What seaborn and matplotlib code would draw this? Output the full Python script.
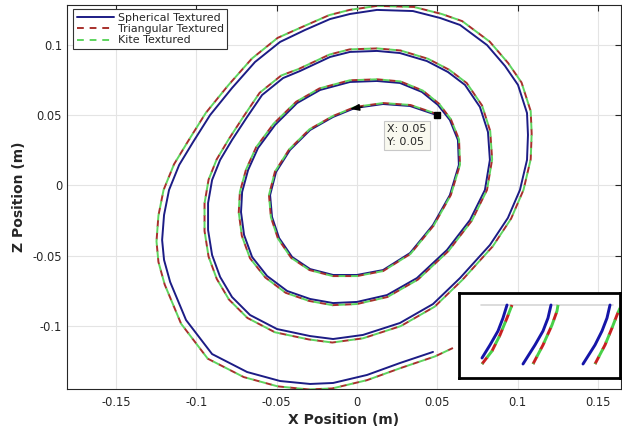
import numpy as np
import pandas as pd
import matplotlib
matplotlib.use("Agg")
import matplotlib.pyplot as plt
import seaborn as sns
from matplotlib.lines import Line2D

# ---------------- data ----------------
series_names = ["Spherical Textured", "Triangular Textured", "Kite Textured"]
series_colors = ["#1c1c85", "#a8302c", "#5ed45e"]

sph_x = [0.0500, 0.0330, 0.0162, -0.0012, -0.0149, -0.0292, -0.0417, -0.0504, -0.0541, -0.0529,
         -0.0485, -0.0404, -0.0292, -0.0149, 0.0000, 0.0162, 0.0330, 0.0473, 0.0578, 0.0634,
         0.0628, 0.0578, 0.0504, 0.0404, 0.0267, 0.0124, -0.0044, -0.0230, -0.0373,
         -0.0510, -0.0616, -0.0678, -0.0715, -0.0722, -0.0703, -0.0653, -0.0560, -0.0435, -0.0292,
         -0.0149, 0.0000, 0.0187, 0.0373, 0.0560, 0.0703, 0.0796, 0.0827, 0.0815, 0.0765,
         0.0672, 0.0566, 0.0435, 0.0267, 0.0124, -0.0044, -0.0168, -0.0355,
         -0.0460, -0.0591, -0.0684, -0.0778, -0.0852, -0.0902, -0.0927, -0.0927, -0.0902, -0.0852,
         -0.0778, -0.0666, -0.0498, -0.0292, -0.0149, 0.0037, 0.0267, 0.0473, 0.0641, 0.0827,
         0.0939, 0.1014, 0.1058, 0.1064, 0.1058, 0.1002, 0.0921, 0.0809, 0.0641, 0.0516,
         0.0348, 0.0124, -0.0044, -0.0168, -0.0324,
         -0.0479, -0.0635, -0.0778, -0.0914, -0.1020, -0.1107, -0.1170, -0.1201, -0.1213, -0.1201,
         -0.1163, -0.1064, -0.0902, -0.0684, -0.0479, -0.0292, -0.0149, 0.0062, 0.0267, 0.0473]
sph_z = [0.0500, 0.0566, 0.0580, 0.0552, 0.0488, 0.0395, 0.0253, 0.0096, -0.0068, -0.0224,
         -0.0374, -0.0509, -0.0595, -0.0637, -0.0637, -0.0602, -0.0481, -0.0281, -0.0068, 0.0146,
         0.0324, 0.0466, 0.0573, 0.0666, 0.0730, 0.0744, 0.0737, 0.0680, 0.0587,
         0.0431, 0.0267, 0.0110, -0.0046, -0.0189, -0.0352, -0.0509, -0.0644, -0.0751, -0.0808,
         -0.0837, -0.0829, -0.0780, -0.0659, -0.0459, -0.0246, -0.0032, 0.0182, 0.0381, 0.0559,
         0.0716, 0.0808, 0.0886, 0.0943, 0.0958, 0.0951, 0.0915, 0.0815,
         0.0765, 0.0644, 0.0488, 0.0324, 0.0182, 0.0039, -0.0125, -0.0317, -0.0495, -0.0651,
         -0.0794, -0.0922, -0.1022, -0.1072, -0.1093, -0.1064, -0.0979, -0.0844, -0.0659, -0.0424,
         -0.0231, -0.0032, 0.0182, 0.0360, 0.0516, 0.0716, 0.0851, 0.1000, 0.1143, 0.1193,
         0.1242, 0.1250, 0.1221, 0.1185, 0.1107,
         0.1022, 0.0879, 0.0694, 0.0502, 0.0310, 0.0146, -0.0032, -0.0210, -0.0388, -0.0530,
         -0.0687, -0.0958, -0.1200, -0.1328, -0.1392, -0.1413, -0.1406, -0.1349, -0.1264, -0.1185]

tri_x = [0.0505, 0.0333, 0.0163, -0.0013, -0.0151, -0.0296, -0.0423, -0.0511, -0.0548, -0.0536,
         -0.0492, -0.0410, -0.0296, -0.0151, -0.0001, 0.0163, 0.0333, 0.0478, 0.0584, 0.0641,
         0.0635, 0.0584, 0.0511, 0.0409, 0.0270, 0.0125, -0.0045, -0.0234, -0.0379,
         -0.0520, -0.0628, -0.0691, -0.0729, -0.0736, -0.0717, -0.0666, -0.0571, -0.0444, -0.0298,
         -0.0153, -0.0001, 0.0189, 0.0379, 0.0569, 0.0715, 0.0809, 0.0841, 0.0829, 0.0778,
         0.0683, 0.0575, 0.0442, 0.0271, 0.0125, -0.0046, -0.0172, -0.0362,
         -0.0472, -0.0606, -0.0701, -0.0797, -0.0873, -0.0924, -0.0949, -0.0949, -0.0924, -0.0873,
         -0.0797, -0.0682, -0.0511, -0.0300, -0.0154, 0.0037, 0.0272, 0.0483, 0.0655, 0.0845,
         0.0959, 0.1036, 0.1081, 0.1087, 0.1081, 0.1024, 0.0941, 0.0826, 0.0655, 0.0527,
         0.0355, 0.0126, -0.0046, -0.0173, -0.0333,
         -0.0494, -0.0654, -0.0801, -0.0941, -0.1049, -0.1139, -0.1204, -0.1236, -0.1248, -0.1236,
         -0.1197, -0.1095, -0.0929, -0.0705, -0.0494, -0.0302, -0.0155, 0.0062, 0.0273, 0.0485,
         0.0597]
tri_z = [0.0506, 0.0573, 0.0587, 0.0559, 0.0494, 0.0400, 0.0256, 0.0098, -0.0068, -0.0226,
         -0.0378, -0.0515, -0.0602, -0.0645, -0.0645, -0.0609, -0.0487, -0.0284, -0.0068, 0.0148,
         0.0328, 0.0472, 0.0582, 0.0676, 0.0741, 0.0756, 0.0749, 0.0691, 0.0596,
         0.0439, 0.0272, 0.0113, -0.0046, -0.0192, -0.0358, -0.0518, -0.0655, -0.0764, -0.0822,
         -0.0852, -0.0844, -0.0794, -0.0670, -0.0467, -0.0250, -0.0032, 0.0186, 0.0388, 0.0570,
         0.0729, 0.0823, 0.0902, 0.0961, 0.0976, 0.0969, 0.0932, 0.0830,
         0.0783, 0.0660, 0.0500, 0.0332, 0.0187, 0.0041, -0.0127, -0.0324, -0.0506, -0.0665,
         -0.0812, -0.0943, -0.1045, -0.1096, -0.1118, -0.1088, -0.1001, -0.0863, -0.0673, -0.0433,
         -0.0236, -0.0032, 0.0187, 0.0369, 0.0529, 0.0733, 0.0871, 0.1024, 0.1170, 0.1221,
         0.1271, 0.1279, 0.1250, 0.1213, 0.1133,
         0.1051, 0.0904, 0.0714, 0.0517, 0.0320, 0.0151, -0.0032, -0.0215, -0.0398, -0.0544,
         -0.0705, -0.0984, -0.1233, -0.1364, -0.1430, -0.1452, -0.1445, -0.1386, -0.1299, -0.1217,
         -0.1157]

# Kite Textured reads identical to Triangular Textured in the picture
kite_x = list(tri_x)
kite_z = list(tri_z)

x_ticks = [-0.15, -0.1, -0.05, 0, 0.05, 0.1, 0.15]
x_tick_labels = ["-0.15", "-0.1", "-0.05", "0", "0.05", "0.1", "0.15"]
z_ticks = [-0.1, -0.05, 0, 0.05, 0.1]
z_tick_labels = ["-0.1", "-0.05", "0", "0.05", "0.1"]

datatip_x = [0.05]
datatip_z = [0.05]
arrow_x = [0.0031, -0.0044]
arrow_z = [0.0559, 0.0545]

# inset (zoomed detail), local units
nan = float("nan")
inset_sph_u = [23, 31, 39, 44, 48, nan, 64, 76, 84, 89, 92, nan, 124, 136, 143, 148, 151]
inset_sph_v = [20, 33, 47, 60, 73, nan, 14, 33, 47, 60, 73, nan, 14, 33, 47, 60, 73]
inset_tri_u = [23, 33, 41, 48, 53, nan, 74, 84, 93, 98, 99, nan, 136, 146, 153, 158, 161]
inset_tri_v = [14, 27, 43, 60, 73, nan, 14, 33, 53, 67, 73, nan, 14, 33, 50, 63, 70]
inset_grid_v = 73

# ---------------- figure ----------------
sns.set_style("white")
plt.rcParams["font.family"] = ["DejaVu Sans"]

frames = []
for name, xs, zs in zip(series_names, [sph_x, tri_x, kite_x], [sph_z, tri_z, kite_z]):
    frames.append(pd.DataFrame({"x": xs, "z": zs, "series": name}))
df = pd.concat(frames, ignore_index=True)

fig = plt.figure(figsize=(6.22, 4.26), dpi=100)
ax = fig.add_axes([67 / 622, (426 - 389.3) / 426, (621 - 67) / 622, (389.3 - 5) / 426])

palette = dict(zip(series_names, series_colors))
dash_map = {series_names[0]: "", series_names[1]: (3.5, 3.0), series_names[2]: (3.5, 3.0)}
sns.lineplot(data=df, x="x", y="z", hue="series", style="series", hue_order=series_names,
             style_order=series_names, palette=palette, dashes=dash_map, sort=False,
             estimator=None, linewidth=1.4, ax=ax, legend=False)

lines = ax.get_lines()
if len(lines) >= 3:
    lines[2].set_linestyle((3.25, (3.5, 3.0)))

ax.set_xlim(-0.1805, 0.1643)
ax.set_ylim(-0.1451, 0.1285)
ax.set_xticks(x_ticks)
ax.set_xticklabels(x_tick_labels)
ax.set_yticks(z_ticks)
ax.set_yticklabels(z_tick_labels)
ax.grid(True, color="#e4e4e4", linewidth=0.8)
ax.set_axisbelow(True)
ax.tick_params(direction="in", length=4, width=0.8, colors="#262626", labelsize=8.3,
               top=True, right=True)
ax.tick_params(axis="x", pad=4.5)
ax.tick_params(axis="y", pad=3.5)
for sp in ax.spines.values():
    sp.set_color("#262626")
    sp.set_linewidth(0.8)
    sp.set_visible(True)

ax.set_xlabel("X Position (m)", fontsize=10, fontweight="bold", labelpad=3)
ax.set_ylabel("Z Position (m)", fontsize=10, fontweight="bold", labelpad=5)

# data tip
ax.plot(datatip_x, datatip_z, "s", color="black", markersize=5, zorder=6)
ax.text(0.0187, 0.0438, f"X: {datatip_x[0]:.2f}\nY: {datatip_z[0]:.2f}", fontsize=8,
        color="#262626", va="top", ha="left", linespacing=1.35, zorder=7,
        bbox=dict(boxstyle="square,pad=0.3", fc="#f9f9ef", ec="#c8c8c8", lw=0.8))

# direction arrow
ax.annotate("", xy=(arrow_x[1], arrow_z[1]), xytext=(arrow_x[0], arrow_z[0]),
            arrowprops=dict(arrowstyle="-|>,head_length=0.55,head_width=0.2", color="black",
                            lw=1.0, shrinkA=0, shrinkB=0), zorder=6)

# legend
handles = [
    Line2D([], [], color=series_colors[0], lw=1.4),
    Line2D([], [], color=series_colors[1], lw=1.4, dashes=(3.5, 3.0)),
    Line2D([], [], color=series_colors[2], lw=1.4, dashes=(3.5, 3.0)),
]
leg = ax.legend(handles, series_names, loc="upper left", bbox_to_anchor=(0.011, 0.9896),
                borderaxespad=0, fontsize=7.9, frameon=True, fancybox=False,
                edgecolor="#333333", framealpha=1, handlelength=3.4, handletextpad=0.3,
                labelspacing=0.12, borderpad=0.35)
leg.get_frame().set_linewidth(0.8)

# inset
ins = fig.add_axes([459 / 622, (426 - 378) / 426, 161 / 622, 85 / 426])
ins.set_xlim(0, 161)
ins.set_ylim(0, 85)
ins.set_xticks([])
ins.set_yticks([])
for sp in ins.spines.values():
    sp.set_color("black")
    sp.set_linewidth(2.0)
    sp.set_visible(True)
ins.axhline(inset_grid_v, xmin=22 / 161, xmax=154 / 161, color="#d6d6d6", lw=1.2)
ins.plot(inset_sph_u, inset_sph_v, color="#1515a8", lw=2.1)
ins.plot(inset_tri_u, inset_tri_v, color="#c82020", lw=2.1, dashes=(3.0, 2.5))
ins.plot(inset_tri_u, inset_tri_v, color="#48d048", lw=2.1, linestyle=(2.75, (3.0, 2.5)))

fig.savefig("out.png", dpi=100)
